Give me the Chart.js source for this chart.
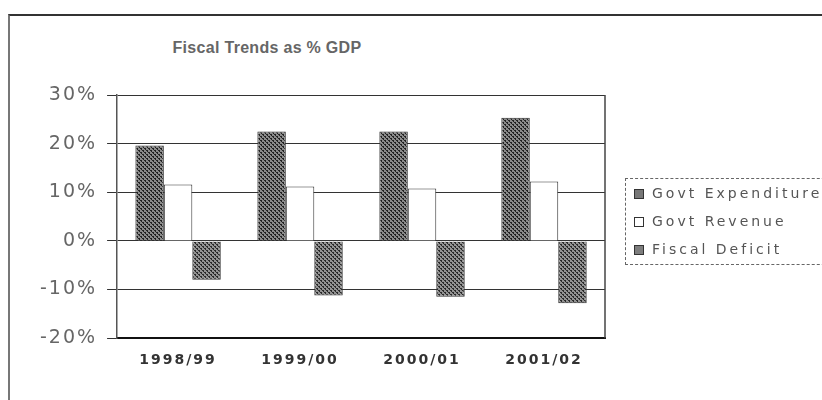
<!DOCTYPE html>
<html>
<head>
<meta charset="utf-8">
<script src="https://cdn.jsdelivr.net/npm/chart.js@4.4.0/dist/chart.umd.min.js"></script>
<style>
  html, body { margin: 0; padding: 0; background: #fff; }
  #wrap { position: relative; width: 822px; height: 400px; overflow: hidden; }
  #frame { position: absolute; left: 8px; top: 14px; right: -4px; bottom: -4px;
           border-top: 2px solid #333; border-left: 2px solid #777; }
  #title { position: absolute; left: 0; width: 534px; top: 39px; text-align: center;
           font: bold 16px "Liberation Sans", Arial, sans-serif; color: #666; letter-spacing: 0.3px; }
  #legend { position: absolute; left: 625px; top: 178px; width: 220px; height: 87px;
            border: 1px dashed #666; box-sizing: border-box; padding-top: 6px; }
  #legend .item { height: 28px; line-height: 17px; font: 14px "DejaVu Sans", sans-serif;
                  color: #555; letter-spacing: 3px; white-space: nowrap; padding-left: 8px; }
  #legend .sw { display: inline-block; width: 10px; height: 10px; margin-right: 8px;
                box-sizing: border-box; border: 1px solid #333; vertical-align: -1px; }
  canvas { position: absolute; left: 0; top: 0; }
</style>
</head>
<body>
<div id="wrap">
  <div id="frame"></div>
  <div id="title">Fiscal Trends as % GDP</div>
  <canvas id="chart" width="822" height="400"></canvas>
  <div id="legend"></div>
</div>
<script>
const years = ["1998/99", "1999/00", "2000/01", "2001/02"];
const expenditure = [19.6, 22.5, 22.5, 25.3];
const revenue = [11.6, 11.2, 10.8, 12.2];
const deficit = [-8.0, -11.2, -11.5, -12.8];
const yTicks = [-20, -10, 0, 10, 20, 30];

// halftone look of the scanned bars
function makePattern(base, dot) {
  const c = document.createElement("canvas");
  c.width = 4;
  c.height = 4;
  const p = c.getContext("2d");
  p.fillStyle = base;
  p.fillRect(0, 0, 4, 4);
  p.fillStyle = dot;
  p.fillRect(0, 0, 2, 1);
  p.fillRect(2, 2, 2, 1);
  p.fillRect(1, 1, 1, 1);
  p.fillRect(3, 3, 1, 1);
  return p.createPattern(c, "repeat");
}

const series = [
  { label: "Govt Expenditure", data: expenditure, fill: makePattern("#8a8a8a", "#222"), swatch: "#777" },
  { label: "Govt Revenue", data: revenue, fill: "#ffffff", swatch: "#ffffff" },
  { label: "Fiscal Deficit", data: deficit, fill: makePattern("#929292", "#2a2a2a"), swatch: "#7d7d7d" },
];

const legend = document.getElementById("legend");
series.forEach((s) => {
  const row = document.createElement("div");
  row.className = "item";
  row.innerHTML = `<span class="sw" style="background:${s.swatch}"></span>${s.label}`;
  legend.appendChild(row);
});

const spacing = {
  id: "spacing",
  beforeUpdate(chart) { chart.ctx.letterSpacing = "2px"; },
  beforeDraw(chart) { chart.ctx.letterSpacing = "2px"; },
};

const plotBorder = {
  id: "plotBorder",
  afterDatasetsDraw(chart) {
    const { ctx, chartArea: a } = chart;
    ctx.save();
    ctx.strokeStyle = "#444";
    ctx.lineWidth = 1.5;
    ctx.beginPath();
    ctx.moveTo(a.right, a.top);
    ctx.lineTo(a.right, a.bottom);
    ctx.stroke();
    ctx.restore();
  },
};

new Chart(document.getElementById("chart"), {
  type: "bar",
  data: {
    labels: years,
    datasets: series.map((s) => ({
      label: s.label,
      data: s.data,
      backgroundColor: s.fill,
      borderColor: "#333",
      borderWidth: 1,
      categoryPercentage: 0.7,
      barPercentage: 1,
    })),
  },
  options: {
    responsive: false,
    animation: false,
    layout: { padding: { left: 30, right: 217, top: 95, bottom: 17 } },
    plugins: { legend: { display: false }, title: { display: false }, tooltip: { enabled: false } },
    scales: {
      x: {
        grid: { display: false, drawTicks: false },
        border: { display: true, color: "#111", width: 2 },
        ticks: { padding: 14, color: "#333", font: { family: "DejaVu Sans", size: 14, weight: "bold" } },
      },
      y: {
        min: yTicks[0],
        max: yTicks[yTicks.length - 1],
        afterBuildTicks(axis) { axis.ticks = yTicks.map((v) => ({ value: v })); },
        grid: { color: "#333", lineWidth: 1, tickLength: 10, tickColor: "#333" },
        border: { display: true, color: "#555", width: 1.5 },
        ticks: {
          padding: 10,
          color: "#666",
          font: { family: "DejaVu Sans", size: 19 },
          callback: (v) => v + "%",
        },
      },
    },
  },
  plugins: [spacing, plotBorder],
});
</script>
</body>
</html>
